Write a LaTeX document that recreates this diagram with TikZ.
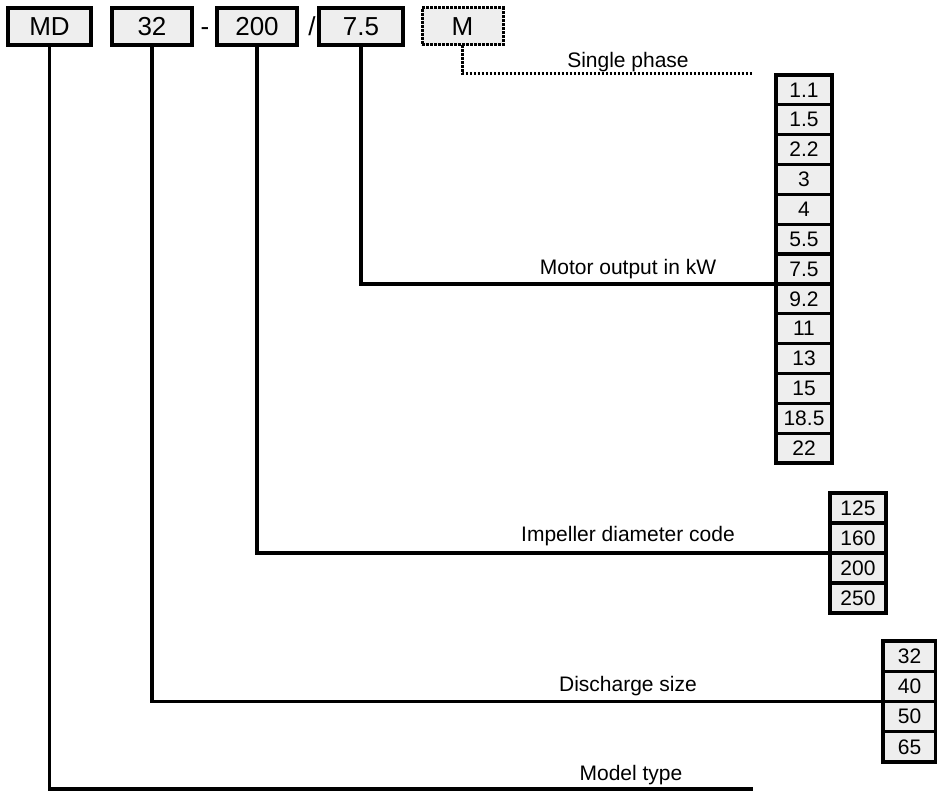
\documentclass[tikz,border=0pt]{standalone}
\usepackage{fontspec}
\setmainfont{Liberation Sans}
\definecolor{boxgrey}{HTML}{EEEEEE}
\begin{document}
\begin{tikzpicture}[x=1pt,y=-1pt,
  topbox/.style={draw=black, fill=boxgrey, line width=3.2pt, minimum height=37pt, inner sep=0pt, outer sep=0pt, font=\fontsize{26}{28}\selectfont},
  dotbox/.style={topbox, dash pattern=on 2.6pt off 1.4pt, line width=3pt},
  colbox/.style={draw=black, fill=boxgrey, line width=3.2pt, minimum width=56pt, inner sep=0pt, outer sep=0pt, font=\fontsize{21}{23}\selectfont},
  conn/.style={line width=3.2pt},
  dotconn/.style={line width=3pt, dash pattern=on 2.6pt off 1.4pt},
  lbl/.style={font=\fontsize{21}{23}\selectfont, inner sep=0pt},
  sep/.style={font=\fontsize{26}{28}\selectfont, inner sep=0pt, anchor=base}]
\useasboundingbox (0,0) rectangle (937,791);
% top code boxes
\node[topbox, minimum width=83pt] (md) at (49.5,26.5) {MD};
\node[topbox, minimum width=80pt] (dn) at (152,26.5) {32};
\node[sep] (dash) at (205,36) {-};
\node[topbox, minimum width=80pt] (imp) at (257,26.5) {200};
\node[sep] (slash) at (312,36) {/};
\node[topbox, minimum width=84pt] (mot) at (361,26.5) {7.5};
\node[dotbox, minimum width=81pt] (ph) at (462.5,26.5) {M};
% motor output column
\foreach \v [count=\i from 0] in {1.1,1.5,2.2,3,4,5.5,7.5,9.2,11,13,15,18.5,22} {
  \node[colbox, minimum height=29.85pt] (m\i) at (804,{75+29.85*(\i+0.5)}) {\v};
}
% impeller column
\foreach \v [count=\i from 0] in {125,160,200,250} {
  \node[colbox, minimum height=30pt] (d\i) at (858,{493+30*(\i+0.5)}) {\v};
}
% discharge column
\foreach \v [count=\i from 0] in {32,40,50,65} {
  \node[colbox, minimum width=53pt, minimum height=30.25pt] (s\i) at (909.5,{641+30.25*(\i+0.5)}) {\v};
}
% free ends
\coordinate (phend) at (753,74);
\coordinate (mtend) at (753,789);
% connectors
\draw[dotconn] (ph.south) |- (phend);
\draw[conn] (mot.south) |- (m6.south west);
\draw[conn] (imp.south) |- (d1.south west);
\draw[conn] (dn.south) |- (s1.south west);
\draw[conn] (md.south) |- (mtend);
% labels
\node[lbl] (lph) at (628,62) {Single phase};
\node[lbl] (lmot) at (628,269) {Motor output in kW};
\node[lbl] (limp) at (628,536) {Impeller diameter code};
\node[lbl] (ldn) at (628,686) {Discharge size};
\node[lbl] (lmd) at (631,775) {Model type};
\end{tikzpicture}
\end{document}
